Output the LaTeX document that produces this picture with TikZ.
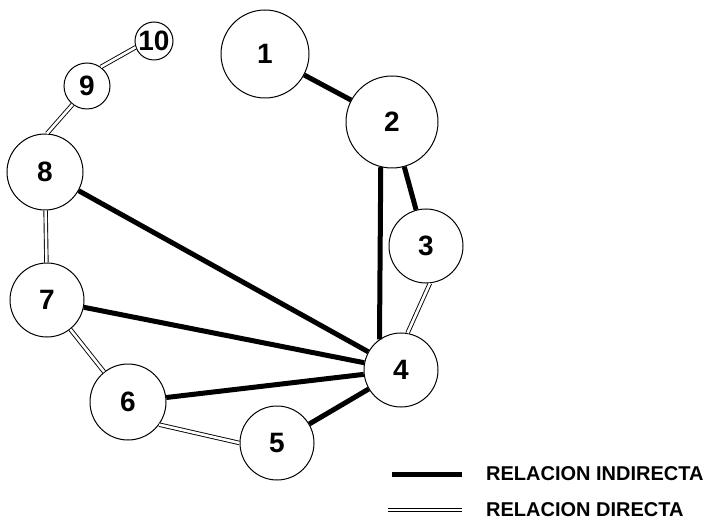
\documentclass[tikz,border=0pt]{standalone}
\usepackage{fontspec}
\setsansfont{Liberation Sans}
\usetikzlibrary{positioning}
\tikzset{
  every node/.append style={font=\sffamily\bfseries},
  nodo/.style={circle, draw, line width=1pt, inner sep=0pt,
               font=\sffamily\bfseries\fontsize{28}{28}\selectfont},
  indir/.style={line width=5pt},
  direc/.style={double, double distance=2.6pt, line width=0.9pt},
  leyenda/.style={anchor=west, inner sep=0pt,
                  font=\sffamily\bfseries\fontsize{20}{20}\selectfont},
}

\begin{document}
\begin{tikzpicture}[x=1pt,y=-1pt]
  \useasboundingbox (0,0) rectangle (720,521);
  % --- nodos ---
  \node[nodo, minimum size=88pt] (n1)  at (265,54)  {1};
  \node[nodo, minimum size=92pt] (n2)  at (392,122) {2};
  \node[nodo, minimum size=74pt] (n3)  at (426,246) {3};
  \node[nodo, minimum size=74pt] (n4)  at (401,370) {4};
  \node[nodo, minimum size=74pt] (n5)  at (277,443) {5};
  \node[nodo, minimum size=76pt] (n6)  at (128,402) {6};
  \node[nodo, minimum size=74pt] (n7)  at (47,300)  {7};
  \node[nodo, minimum size=76pt] (n8)  at (45,172)  {8};
  \node[nodo, minimum size=46pt] (n9)  at (87,86)   {9};
  \node[nodo, minimum size=38pt] (n10) at (154,41)  {10};
  % --- relacion indirecta ---
  \draw[indir] (n1) -- (n2);
  \draw[indir] (n2) -- (n3);
  \draw[indir] (n2.256) -- (n4.125);
  \draw[indir] (n8) -- (n4);
  \draw[indir] (n7) -- (n4);
  \draw[indir] (n6) -- (n4);
  \draw[indir] (n5) -- (n4);
  % --- relacion directa ---
  \draw[direc] (n10.199) -- (n9.54);
  \draw[direc] (n9.232) -- (n8.87);
  \draw[direc] (n8) -- (n7);
  \draw[direc] (n7) -- (n6);
  \draw[direc] (n6.-36) -- (n5.180);
  \draw[direc] (n3.-84) -- (n4.80);
  % --- leyenda ---
  \coordinate (li1) at (392,474);
  \coordinate (li2) at (462,474);
  \coordinate (ld1) at (388,510);
  \coordinate (ld2) at (462,510);
  \draw[indir] (li1) -- (li2);
  \draw[direc] (ld1) -- (ld2);
  \node[leyenda] (tind) at (486,474) {RELACION INDIRECTA};
  \node[leyenda] (tdir) at (486,510) {RELACION DIRECTA};
\end{tikzpicture}
\end{document}
